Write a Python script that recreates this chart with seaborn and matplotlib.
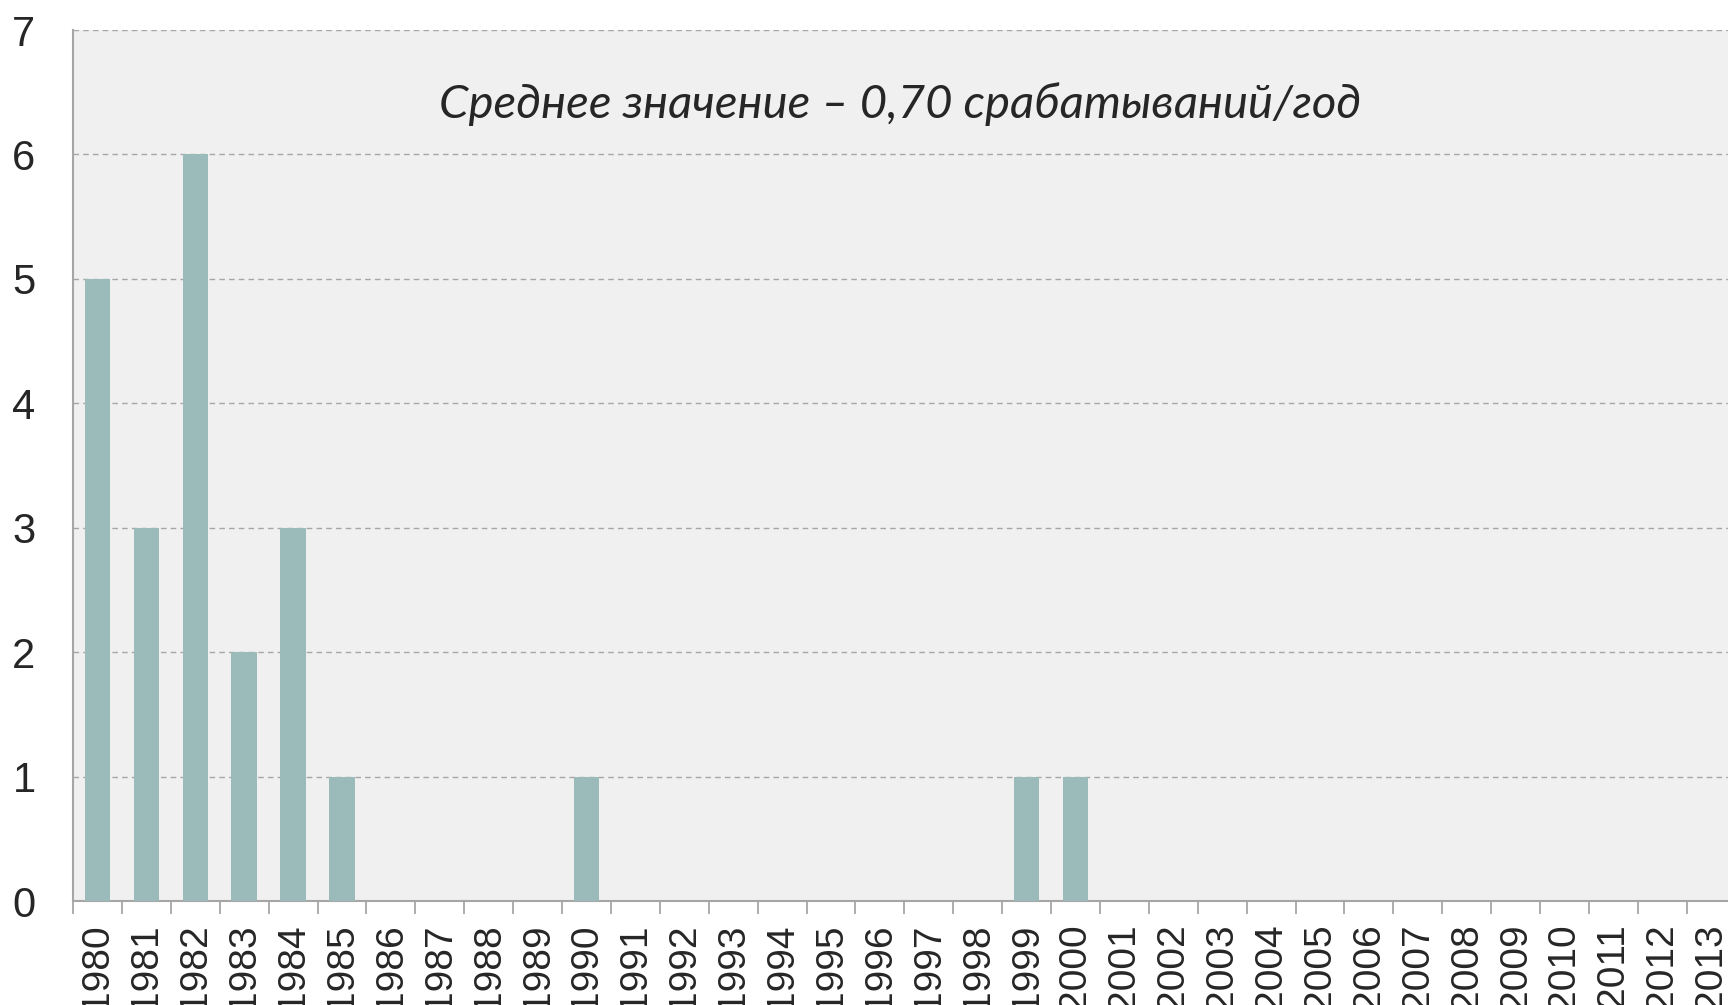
import matplotlib
matplotlib.use("Agg")
import matplotlib.pyplot as plt
from matplotlib.ticker import FixedLocator
import seaborn as sns
import pandas as pd

# данные
years = ["1980", "1981", "1982", "1983", "1984", "1985", "1986", "1987", "1988",
         "1989", "1990", "1991", "1992", "1993", "1994", "1995", "1996", "1997",
         "1998", "1999", "2000", "2001", "2002", "2003", "2004", "2005", "2006",
         "2007", "2008", "2009", "2010", "2011", "2012", "2013"]
counts = [5, 3, 6, 2, 3, 1, 0, 0, 0,
          0, 1, 0, 0, 0, 0, 0, 0, 0,
          0, 1, 1, 0, 0, 0, 0, 0, 0,
          0, 0, 0, 0, 0, 0, 0]
y_ticks = [0, 1, 2, 3, 4, 5, 6, 7]
note = "Среднее значение – 0,70 срабатываний/год"

df = pd.DataFrame({"year": years, "count": counts})

sns.set_style("white")
plt.rcParams['font.family'] = ['Liberation Sans', 'DejaVu Sans']

fig = plt.figure(figsize=(17.28, 10.05), dpi=100)
ax = fig.add_axes([73 / 1728, 104 / 1005, 1 - 73 / 1728, 871 / 1005])
ax.set_facecolor("#F0F0F0")

sns.barplot(data=df, x="year", y="count", color="#9BBBBB", saturation=1,
            width=0.52, linewidth=0, ax=ax, zorder=3)

# сетка
ax.set_ylim(0, 7)
ax.set_yticks(y_ticks)
ax.yaxis.grid(True, linestyle=(0, (4, 3)), color="#A6A6A6", linewidth=1.0, zorder=0)
ax.set_axisbelow(True)

# ось X обрезана справа, как на исходной картинке
ax.set_xlim(-0.5, -0.5 + (1728 - 73) / 48.9)
ax.xaxis.set_minor_locator(FixedLocator([i - 0.5 for i in range(len(years) + 1)]))
ax.tick_params(axis="x", which="major", length=0, pad=16, labelsize=28, rotation=90)
ax.tick_params(axis="x", which="minor", length=9, width=1.3, color="#A6A6A6",
               direction="out", bottom=True)
ax.tick_params(axis="y", length=0, pad=27, labelsize=30)

for lbl in ax.get_xticklabels():
    lbl.set_verticalalignment("top")

for s in ["top", "right"]:
    ax.spines[s].set_visible(False)
for s in ["left", "bottom"]:
    ax.spines[s].set_color("#A6A6A6")
    ax.spines[s].set_linewidth(1.5)

ax.set_xlabel("")
ax.set_ylabel("")

fig.text(900 / 1728, 1 - 104 / 1005, note, ha="center", va="center",
         fontsize=34, style="italic", family=["Lato", "DejaVu Sans"])

fig.savefig("out.png", dpi=100)
